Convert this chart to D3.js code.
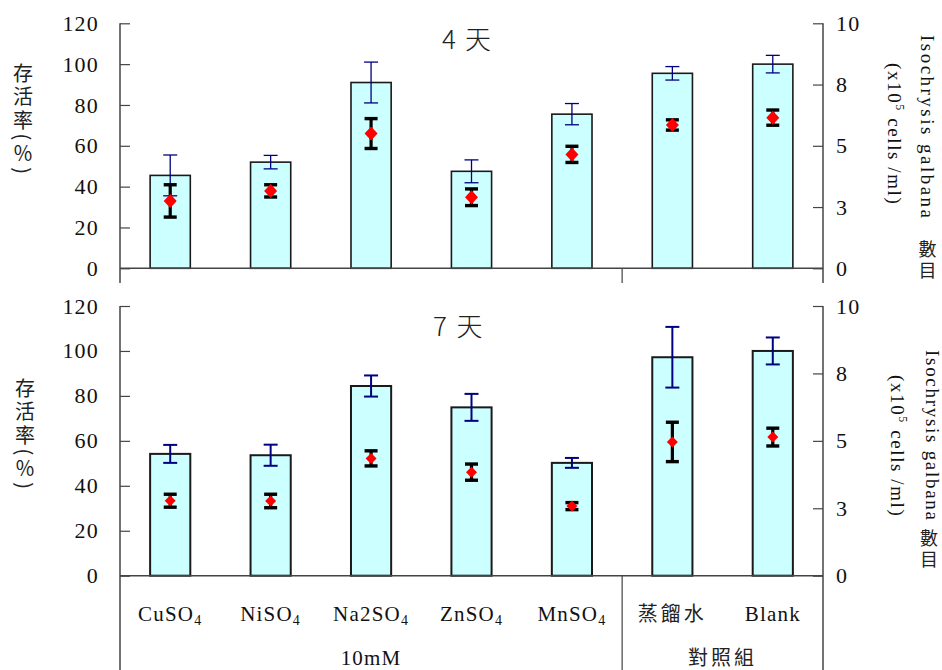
<!DOCTYPE html>
<html>
<head>
<meta charset="utf-8">
<script src="https://cdn.jsdelivr.net/npm/d3@7"></script>
<style>
  html, body { margin: 0; padding: 0; background: #fff; }
  svg { display: block; }
  .num { font-family: "Liberation Serif", "Times New Roman", serif; fill: #111; }
  .cjk { font-family: "Noto Sans CJK TC", "Noto Sans CJK SC", sans-serif; fill: #222; }
  .vert { writing-mode: vertical-rl; text-orientation: mixed; }
</style>
</head>
<body>
<svg id="chart" width="942" height="670"></svg>
<script>
// Treatments (10 mM salts) and controls
const categories = ["CuSO4", "NiSO4", "Na2SO4", "ZnSO4", "MnSO4", "蒸餾水", "Blank"];
const groupLabels = ["10mM", "對照組"];
const groupSpans = [[0, 4], [5, 6]];

// Day 4: survival rate (%) with error, and Isochrysis galbana count (x10^5 cells/ml) with error
const survival4 = [45.5, 52, 91, 47.5, 75.5, 95.5, 100];
const survival4Err = [10, 3.3, 10, 5.6, 5.2, 3.3, 4.3];
const cells4 = [2.75, 3.16, 5.5, 2.9, 4.65, 5.85, 6.15];
const cells4Err = [0.66, 0.25, 0.61, 0.34, 0.33, 0.21, 0.31];

// Day 7
const survival7 = [54.2, 53.6, 84.4, 74.9, 50.2, 97.2, 100];
const survival7Err = [4, 4.7, 4.7, 6, 2.2, 13.5, 6];
const cells7 = [2.78, 2.77, 4.35, 3.84, 2.58, 4.96, 5.14];
const cells7Err = [0.24, 0.25, 0.28, 0.3, 0.13, 0.73, 0.33];

// Axis ticks
const leftTicks = [0, 20, 40, 60, 80, 100, 120];
const rightTicks = [0, 2.5, 5, 7.5, 10];
const rightTickLabels = ["0", "3", "5", "8", "10"];
const panelDays = ["4", "7"];

const svg = d3.select("#chart");
const X0 = 120, X1 = 823;

const x = d3.scaleBand().domain(categories).range([X0, X1])
  .paddingInner(0.6).paddingOuter(0.3);
const cx = c => x(c) + x.bandwidth() / 2;
const step = x.step();
const sepX = X0 + 5 * step; // boundary between the two groups

const panels = [
  { surv: survival4, survErr: survival4Err, cells: cells4, cellsErr: cells4Err,
    yTop: 23.3, yBot: 268.3, extendTo: 283, day: panelDays[0], titleX: 442, kanjiX: 465, titleY: 49,
    blueW: 1.3, barStroke: 1.6, dia: [6.5, 7],
    leftTitle: { x: 23, y0: 63 },
    rt1: { x: 920.5, y0: 35, len: 183 }, rt2: { x: 888, y0: 63, len: 150 }, cjk: { x: 927.5, y0: 240 } },
  { surv: survival7, survErr: survival7Err, cells: cells7, cellsErr: cells7Err,
    yTop: 306, yBot: 575.7, extendTo: 670, day: panelDays[1], titleX: 433, kanjiX: 456.5, titleY: 336,
    blueW: 2, barStroke: 2, dia: [5.5, 5.5],
    leftTitle: { x: 25, y0: 378 },
    rt1: { x: 925.5, y0: 350, len: 170 }, rt2: { x: 890.5, y0: 375, len: 145 }, cjk: { x: 929, y0: 529 } }
];

panels.forEach(p => {
  const y = d3.scaleLinear().domain([0, 120]).range([p.yBot, p.yTop]);
  const yr = d3.scaleLinear().domain([0, 10]).range([p.yBot, p.yTop]);
  const g = svg.append("g");

  // Bars: survival rate
  g.selectAll("rect.bar").data(categories).join("rect")
    .attr("class", "bar")
    .attr("x", c => x(c))
    .attr("width", x.bandwidth())
    .attr("y", (c, i) => y(p.surv[i]))
    .attr("height", (c, i) => y(0) - y(p.surv[i]))
    .attr("fill", "#CCFFFF")
    .attr("stroke", "#1a1a1a")
    .attr("stroke-width", p.barStroke);

  // Survival error bars (navy)
  const blue = g.append("g").attr("stroke", "#000080").attr("stroke-width", p.blueW).attr("fill", "none");
  categories.forEach((c, i) => {
    const hi = y(p.surv[i] + p.survErr[i]), lo = y(p.surv[i] - p.survErr[i]);
    const xc = cx(c), cw = 7;
    blue.append("line").attr("x1", xc).attr("x2", xc).attr("y1", hi).attr("y2", lo);
    blue.append("line").attr("x1", xc - cw).attr("x2", xc + cw).attr("y1", hi).attr("y2", hi);
    blue.append("line").attr("x1", xc - cw).attr("x2", xc + cw).attr("y1", lo).attr("y2", lo);
  });

  // Cell count error bars (black, heavy)
  const blk = g.append("g").attr("stroke", "#000").attr("fill", "none");
  categories.forEach((c, i) => {
    const hi = yr(p.cells[i] + p.cellsErr[i]), lo = yr(p.cells[i] - p.cellsErr[i]);
    const xc = cx(c), cw = 6.5;
    blk.append("line").attr("x1", xc).attr("x2", xc).attr("y1", hi).attr("y2", lo).attr("stroke-width", 3.2);
    blk.append("line").attr("x1", xc - cw).attr("x2", xc + cw).attr("y1", hi).attr("y2", hi).attr("stroke-width", 3.4);
    blk.append("line").attr("x1", xc - cw).attr("x2", xc + cw).attr("y1", lo).attr("y2", lo).attr("stroke-width", 3.4);
  });

  // Cell count markers (red diamonds)
  const [dw, dh] = p.dia;
  g.selectAll("path.dia").data(categories).join("path")
    .attr("class", "dia")
    .attr("d", (c, i) => {
      const xc = cx(c), yc = yr(p.cells[i]);
      return `M${xc},${yc - dh}L${xc + dw},${yc}L${xc},${yc + dh}L${xc - dw},${yc}Z`;
    })
    .attr("fill", "#FF0000");

  // Baseline
  g.append("line").attr("x1", X0).attr("x2", X1).attr("y1", y(0)).attr("y2", y(0))
    .attr("stroke", "#444").attr("stroke-width", 1.5);

  // Vertical frame lines (axes extended below the baseline, plus group separator)
  g.append("line").attr("x1", X0).attr("x2", X0).attr("y1", p.yTop).attr("y2", p.extendTo)
    .attr("stroke", "#444").attr("stroke-width", 1.5);
  g.append("line").attr("x1", X1).attr("x2", X1).attr("y1", p.yTop).attr("y2", p.extendTo)
    .attr("stroke", "#444").attr("stroke-width", 1.5);
  g.append("line").attr("x1", sepX).attr("x2", sepX).attr("y1", y(0)).attr("y2", p.extendTo)
    .attr("stroke", "#444").attr("stroke-width", 1.2);

  // Left axis (survival %)
  const la = g.append("g").attr("transform", `translate(${X0},0)`)
    .call(d3.axisLeft(y).tickValues(leftTicks).tickSizeInner(-10).tickSizeOuter(0).tickPadding(21));
  la.select(".domain").remove();
  la.selectAll(".tick line").attr("stroke", "#444").attr("stroke-width", 1.2);
  la.selectAll(".tick text").attr("class", "num").attr("font-size", 22)
    .attr("letter-spacing", 1.2).attr("fill", "#111");

  // Right axis (cell count)
  const ra = g.append("g").attr("transform", `translate(${X1},0)`)
    .call(d3.axisRight(yr).tickValues(rightTicks).tickSizeInner(-10).tickSizeOuter(0).tickPadding(13)
      .tickFormat((d, i) => rightTickLabels[i]));
  ra.select(".domain").remove();
  ra.selectAll(".tick line").attr("stroke", "#444").attr("stroke-width", 1.2);
  ra.selectAll(".tick text").attr("class", "num").attr("font-size", 22)
    .attr("letter-spacing", 1.2).attr("fill", "#111");

  // Panel title: "<n> 天"
  const tt = svg.append("text").attr("class", "cjk").attr("y", p.titleY)
    .attr("font-size", 26).attr("font-weight", 300);
  tt.append("tspan").attr("x", p.titleX).text(p.day);
  tt.append("tspan").attr("x", p.kanjiX).text("天");

  // Left axis title in vertical writing: CJK upright, parentheses turned sideways
  svg.append("text").attr("class", "cjk vert")
    .attr("x", p.leftTitle.x).attr("y", p.leftTitle.y0)
    .attr("font-size", 20).attr("letter-spacing", 3.5)
    .text("存活率(％)");

  // Right axis title, rotated
  svg.append("text").attr("class", "num")
    .attr("transform", `translate(${p.rt1.x},${p.rt1.y0}) rotate(90)`)
    .attr("font-size", 19).attr("textLength", p.rt1.len).attr("lengthAdjust", "spacing")
    .text("Isochrysis galbana");
  const t2 = svg.append("text").attr("class", "num")
    .attr("transform", `translate(${p.rt2.x},${p.rt2.y0}) rotate(90)`)
    .attr("font-size", 19).attr("letter-spacing", 1.6);
  t2.append("tspan").text("(x10");
  t2.append("tspan").attr("font-size", 12).attr("dy", -8).text("5");
  t2.append("tspan").attr("dy", 8).text(" cells /ml)");
  svg.append("text").attr("class", "cjk vert")
    .attr("x", p.cjk.x).attr("y", p.cjk.y0)
    .attr("font-size", 18).attr("letter-spacing", 3)
    .text("數目");
});

// Category labels under the lower panel
categories.forEach(c => {
  const isCjk = /[\u4e00-\u9fff]/.test(c);
  const t = svg.append("text").attr("x", cx(c)).attr("y", 621)
    .attr("text-anchor", "middle")
    .attr("class", isCjk ? "cjk" : "num")
    .attr("font-size", isCjk ? 20 : 21)
    .attr("letter-spacing", isCjk ? 3 : 1.2);
  const m = c.match(/^(.*SO)4$/);
  if (m) {
    t.append("tspan").text(m[1]);
    t.append("tspan").attr("font-size", 14).attr("dy", 4).text("4");
  } else {
    t.text(c);
  }
});

// Group labels
groupLabels.forEach((lab, k) => {
  const [a, b] = groupSpans[k];
  const mid = (cx(categories[a]) + cx(categories[b])) / 2;
  const isCjk = /[\u4e00-\u9fff]/.test(lab);
  svg.append("text").attr("x", mid).attr("y", 665)
    .attr("text-anchor", "middle")
    .attr("class", isCjk ? "cjk" : "num")
    .attr("font-size", isCjk ? 20 : 21)
    .attr("letter-spacing", isCjk ? 3 : 1.2)
    .text(lab);
});
</script>
</body>
</html>
